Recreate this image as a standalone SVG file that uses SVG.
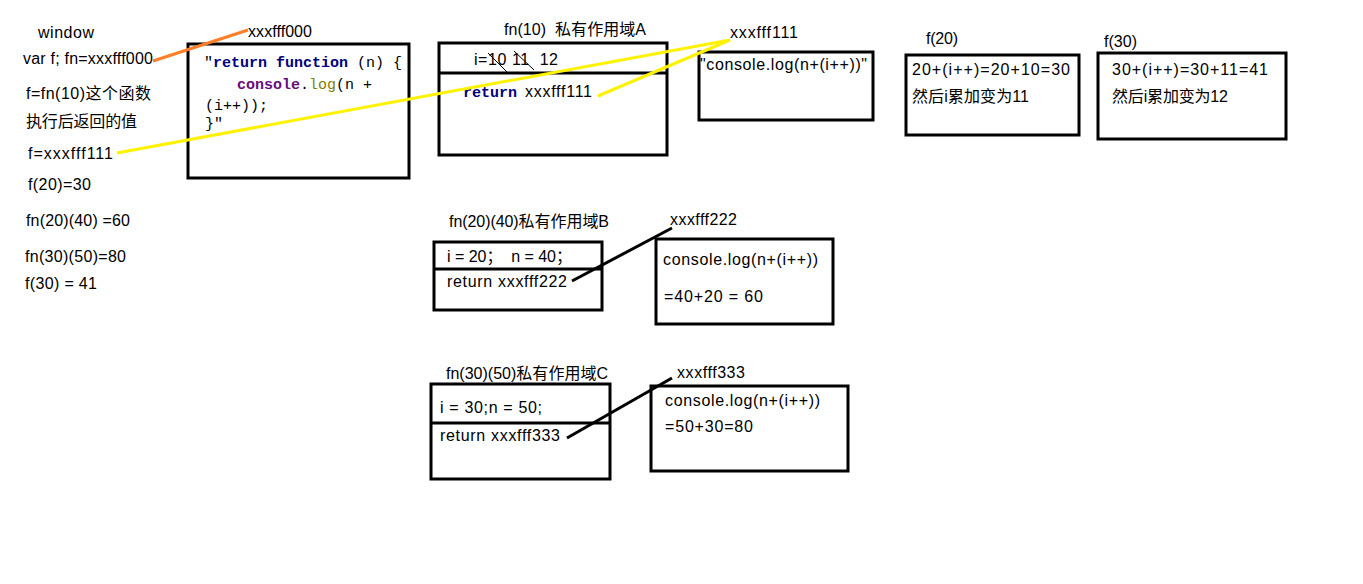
<svg xmlns="http://www.w3.org/2000/svg" width="1363" height="584" viewBox="0 0 1363 584">
<style>
text{font-family:"Liberation Sans","Noto Sans CJK SC",sans-serif;font-size:16px;fill:#000;white-space:pre}
.box{fill:#fff;stroke:#000;stroke-width:3}
.div{stroke:#000;stroke-width:3}
.mono{font-family:"Liberation Mono",monospace;font-size:15px}
.kw{font-weight:bold;fill:#000080}
.obj{font-weight:bold;fill:#660e7a}
.fn{fill:#808000}
.y{stroke:#fff200;stroke-width:3;fill:none}
.o{stroke:#ff7f27;stroke-width:3;fill:none}
.k{stroke:#000;stroke-width:3;fill:none}
.thin{stroke:#000;stroke-width:1;fill:none}
</style>
<rect width="1363" height="584" fill="#fff"/>
<g id="window">
<text x="38" y="38" textLength="56" lengthAdjust="spacing">window</text>
<text x="23" y="64" textLength="130" lengthAdjust="spacing">var f; fn=xxxfff000</text>
<text x="26" y="99" textLength="125" lengthAdjust="spacing">f=fn(10)这个函数</text>
<text x="26" y="127" textLength="111" lengthAdjust="spacing">执行后返回的值</text>
<text x="28" y="159" textLength="85" lengthAdjust="spacing">f=xxxfff111</text>
<text x="28" y="190" textLength="63" lengthAdjust="spacing">f(20)=30</text>
<text x="26" y="226" textLength="104" lengthAdjust="spacing">fn(20)(40) =60</text>
<text x="25" y="262" textLength="101" lengthAdjust="spacing">fn(30)(50)=80</text>
<text x="25" y="289" textLength="72" lengthAdjust="spacing">f(30) = 41</text>
</g>
<g id="heap000">
<text x="248" y="37" textLength="64" lengthAdjust="spacing">xxxfff000</text>
<rect class="box" x="188" y="44" width="221" height="134"/>
<text class="mono" x="204" y="67">"<tspan class="kw">return function</tspan> (n) {</text>
<text class="mono" x="237" y="89"><tspan class="obj">console</tspan>.<tspan class="fn">log</tspan>(n +</text>
<text class="mono" x="205" y="110">(i++));</text>
<text class="mono" x="205" y="128">}"</text>
</g>
<g id="scopeA">
<text x="504" y="35" textLength="142" lengthAdjust="spacing">fn(10)  私有作用域A</text>
<rect class="box" x="439" y="43" width="228" height="112"/>
<line class="div" x1="439" y1="73" x2="667" y2="73"/>
<text x="474" y="65" textLength="84" lengthAdjust="spacing">i=10 11  12</text>
<line class="thin" x1="488" y1="53" x2="507" y2="72"/>
<line class="thin" x1="514" y1="51" x2="534" y2="70"/>
<text class="mono kw" x="463" y="97">return</text>
<text x="525" y="97" textLength="67" lengthAdjust="spacing">xxxfff111</text>
</g>
<g id="heap111">
<text x="730" y="38" textLength="68" lengthAdjust="spacing">xxxfff111</text>
<rect class="box" x="699" y="52" width="174" height="68"/>
<text x="700" y="70" textLength="167" lengthAdjust="spacing">"console.log(n+(i++))"</text>
</g>
<g id="f20">
<text x="926" y="44" textLength="32" lengthAdjust="spacing">f(20)</text>
<rect class="box" x="906" y="55" width="173" height="80"/>
<text x="912" y="75" textLength="158" lengthAdjust="spacing">20+(i++)=20+10=30</text>
<text x="912" y="102" textLength="117" lengthAdjust="spacing">然后i累加变为11</text>
</g>
<g id="f30">
<text x="1104" y="47" textLength="33" lengthAdjust="spacing">f(30)</text>
<rect class="box" x="1098" y="53" width="188" height="86"/>
<text x="1112" y="75" textLength="156" lengthAdjust="spacing">30+(i++)=30+11=41</text>
<text x="1112" y="102" textLength="116" lengthAdjust="spacing">然后i累加变为12</text>
</g>
<g id="scopeB">
<text x="449" y="227" textLength="160" lengthAdjust="spacing">fn(20)(40)私有作用域B</text>
<rect class="box" x="434" y="242" width="168" height="68"/>
<line class="div" x1="434" y1="269" x2="602" y2="269"/>
<text x="447" y="262" textLength="125" lengthAdjust="spacing">i = 20；  n = 40；</text>
<text x="447" y="287" textLength="120" lengthAdjust="spacing">return xxxfff222</text>
</g>
<g id="heap222">
<text x="670" y="225" textLength="67" lengthAdjust="spacing">xxxfff222</text>
<rect class="box" x="656" y="239" width="177" height="85"/>
<text x="663" y="265" textLength="155" lengthAdjust="spacing">console.log(n+(i++))</text>
<text x="664" y="302" textLength="99" lengthAdjust="spacing">=40+20 = 60</text>
</g>
<g id="scopeC">
<text x="446" y="379" textLength="162" lengthAdjust="spacing">fn(30)(50)私有作用域C</text>
<rect class="box" x="431" y="384" width="179" height="95"/>
<line class="div" x1="431" y1="423" x2="610" y2="423"/>
<text x="440" y="413" textLength="102" lengthAdjust="spacing">i = 30;n = 50;</text>
<text x="440" y="441" textLength="120" lengthAdjust="spacing">return xxxfff333</text>
</g>
<g id="heap333">
<text x="677" y="378" textLength="68" lengthAdjust="spacing">xxxfff333</text>
<rect class="box" x="651" y="386" width="197" height="85"/>
<text x="665" y="406" textLength="155" lengthAdjust="spacing">console.log(n+(i++))</text>
<text x="665" y="432" textLength="88" lengthAdjust="spacing">=50+30=80</text>
</g>
<g id="connectors">
<line class="o" x1="153" y1="61" x2="248" y2="30"/>
<line class="y" x1="117" y1="153" x2="730" y2="40"/>
<line class="y" x1="598" y1="96" x2="730" y2="40"/>
<line class="k" x1="572" y1="281" x2="672" y2="228"/>
<line class="k" x1="567" y1="438" x2="672" y2="378"/>
</g>
</svg>
